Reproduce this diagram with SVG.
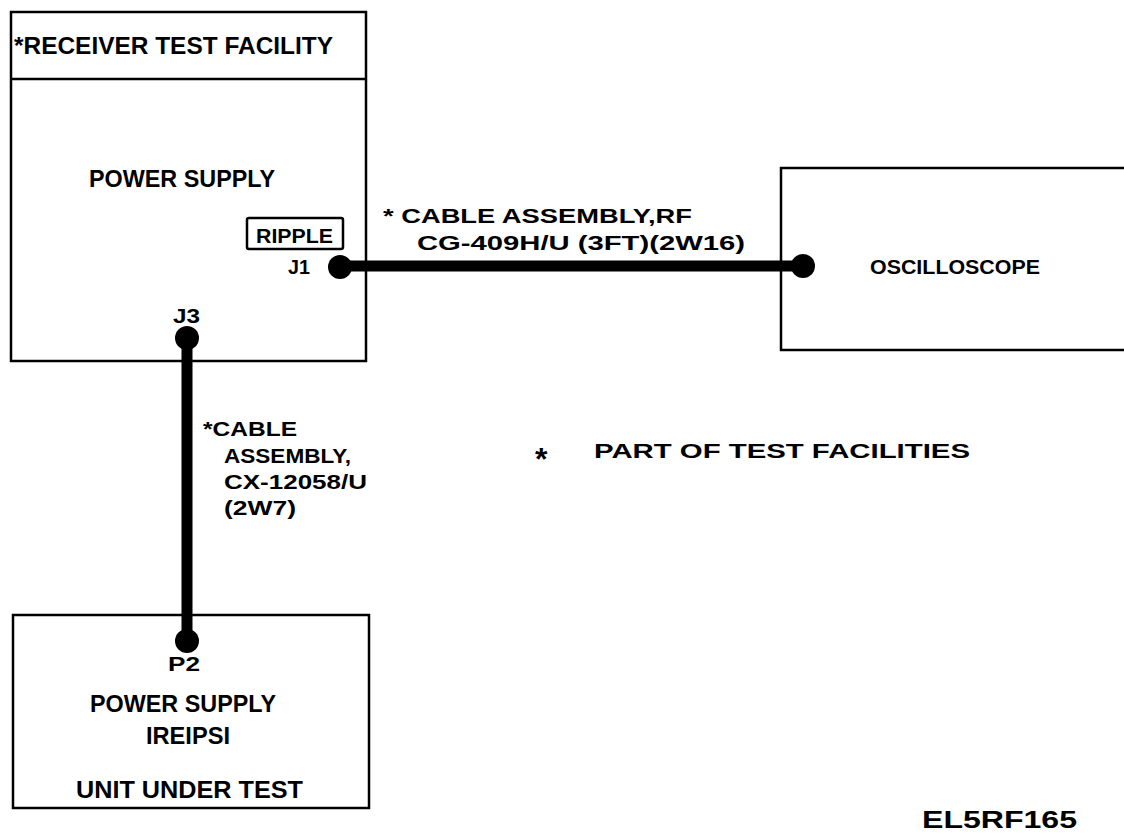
<svg xmlns="http://www.w3.org/2000/svg" width="1124" height="836" viewBox="0 0 1124 836">
<style>
.box{fill:none;stroke:#000;stroke-width:2.5}
.t{font-family:"Liberation Sans",Arial,sans-serif;font-weight:bold;fill:#000}
.cable{stroke:#000;stroke-width:11;fill:none}
.dot{fill:#000}
</style>
<rect width="1124" height="836" fill="#fff"/>
<g id="receiver-test-facility">
<rect class="box" x="11" y="12" width="355" height="349"/>
<line class="box" x1="11" y1="79" x2="366" y2="79"/>
<text class="t" x="14" y="54" font-size="24" textLength="319" lengthAdjust="spacingAndGlyphs">*RECEIVER TEST FACILITY</text>
<text class="t" x="89" y="187" font-size="24" textLength="186" lengthAdjust="spacingAndGlyphs">POWER SUPPLY</text>
<rect class="box" x="247" y="218" width="96" height="31" rx="2"/>
<text class="t" x="256" y="243" font-size="20" textLength="77" lengthAdjust="spacingAndGlyphs">RIPPLE</text>
<text class="t" x="288" y="274" font-size="20" textLength="22" lengthAdjust="spacingAndGlyphs">J1</text>
<text class="t" x="173" y="323" font-size="20" textLength="27" lengthAdjust="spacingAndGlyphs">J3</text>
</g>
<g id="oscilloscope">
<path class="box" d="M1130,168 H781 V350 H1130"/>
<text class="t" x="870" y="274" font-size="21" textLength="170" lengthAdjust="spacingAndGlyphs">OSCILLOSCOPE</text>
</g>
<g id="unit-under-test">
<rect class="box" x="13" y="615" width="356" height="193"/>
<text class="t" x="168" y="671" font-size="20" textLength="32" lengthAdjust="spacingAndGlyphs">P2</text>
<text class="t" x="90" y="712" font-size="24" textLength="186" lengthAdjust="spacingAndGlyphs">POWER SUPPLY</text>
<text class="t" x="146" y="744" font-size="24" textLength="84" lengthAdjust="spacingAndGlyphs">IREIPSI</text>
<text class="t" x="76" y="798" font-size="24" textLength="227" lengthAdjust="spacingAndGlyphs">UNIT UNDER TEST</text>
</g>
<g id="connectors">
<line class="cable" x1="340" y1="266" x2="803" y2="266"/>
<circle class="dot" cx="340" cy="267" r="12"/>
<circle class="dot" cx="803" cy="266" r="12"/>
<line class="cable" x1="187" y1="338" x2="187" y2="641"/>
<circle class="dot" cx="187" cy="338" r="12"/>
<circle class="dot" cx="187" cy="641" r="12"/>
<text class="t" x="383" y="223" font-size="21" textLength="309" lengthAdjust="spacingAndGlyphs">* CABLE ASSEMBLY,RF</text>
<text class="t" x="417" y="250" font-size="21" textLength="328" lengthAdjust="spacingAndGlyphs">CG-409H/U (3FT)(2W16)</text>
<text class="t" x="203" y="436" font-size="21" textLength="94" lengthAdjust="spacingAndGlyphs">*CABLE</text>
<text class="t" x="224" y="463" font-size="21" textLength="127" lengthAdjust="spacingAndGlyphs">ASSEMBLY,</text>
<text class="t" x="224" y="489" font-size="21" textLength="143" lengthAdjust="spacingAndGlyphs">CX-12058/U</text>
<text class="t" x="224" y="515" font-size="21" textLength="72" lengthAdjust="spacingAndGlyphs">(2W7)</text>
</g>
<g id="notes">
<text class="t" x="535" y="470" font-size="32">*</text>
<text class="t" x="594" y="458" font-size="21" textLength="376" lengthAdjust="spacingAndGlyphs">PART OF TEST FACILITIES</text>
<text class="t" x="922" y="828" font-size="24" textLength="155" lengthAdjust="spacingAndGlyphs">EL5RF165</text>
</g>
</svg>
